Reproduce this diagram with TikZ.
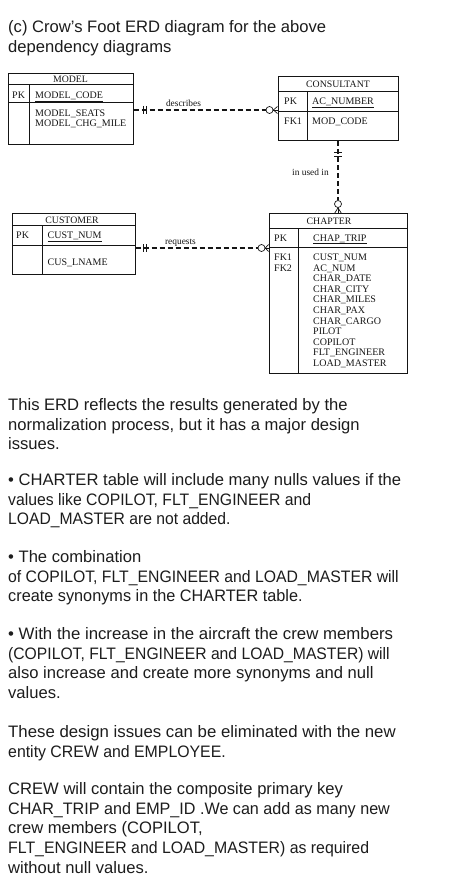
\documentclass[tikz,border=0pt]{standalone}
\usepackage{fontspec}
\usepackage{graphicx}
\setmainfont{Liberation Sans}
\newfontfamily\erdf{Liberation Serif}
\definecolor{textcol}{HTML}{1C1C1C}
\definecolor{erdcol}{HTML}{151515}
\newcommand{\sx}[2]{\scalebox{#1}[1]{#2}}
\begin{document}
\begin{tikzpicture}[x=1pt,y=-1pt,
  txt/.style={anchor=base west,inner sep=0,text=textcol,font=\fontsize{16.6}{19.7}\selectfont},
  fld/.style={anchor=base west,inner sep=0,text=erdcol,font=\erdf\fontsize{10}{10.6}\selectfont},
  ttl/.style={anchor=base,inner sep=0,text=erdcol,font=\erdf\fontsize{9.8}{10}\selectfont},
  rel/.style={inner sep=0,text=erdcol,font=\erdf\fontsize{9.4}{9.4}\selectfont},
  tbl/.style={draw=erdcol,line width=1pt,inner sep=0,rectangle},
  rule/.style={draw=erdcol,line width=1pt},
  conn/.style={draw=erdcol,line width=1.1pt,dash pattern=on 5pt off 3pt},
  tick/.style={draw=erdcol,line width=0.9pt},
  opt/.style={circle,draw=erdcol,line width=0.7pt,minimum size=7pt,inner sep=0,fill=white},
  foot/.style={draw=erdcol,line width=0.7pt}]
\useasboundingbox (0,0) rectangle (474,885);
% ---------- title ----------
\node[txt] (t1) at (8,33) {(c) Crow’s Foot ERD diagram for the above};
\node[txt] (t2) at (8,52.5) {dependency diagrams};
% ---------- MODEL ----------
\node[tbl,minimum width=125pt,minimum height=71pt] (model) at (70.5,109.5) {};
\draw[rule] (8,85) -- (133,85);
\draw[rule] (8,103) -- (133,103);
\draw[rule] (29,85) -- (29,145);
\node[ttl] (modelT) at (70.5,83) {MODEL};
\node[fld] (modelPK) at (12,98.5) {PK};
\node[fld] (modelA) at (35,98.5) {\underline{MODEL\_CODE}};
\node[fld] (modelB) at (35,116.6) {MODEL\_SEATS};
\node[fld] (modelC) at (35,126.8) {MODEL\_CHG\_MILE};
% ---------- CONSULTANT ----------
\node[tbl,minimum width=120pt,minimum height=64pt] (cons) at (338,109) {};
\draw[rule] (278,92) -- (398,92);
\draw[rule] (278,112) -- (398,112);
\draw[rule] (307,92) -- (307,141);
\node[ttl] (consT) at (338,88) {CONSULTANT};
\node[fld] (consPK) at (284,105) {PK};
\node[fld] (consA) at (312,105) {\underline{AC\_NUMBER}};
\node[fld] (consFK) at (284,124.3) {FK1};
\node[fld] (consB) at (312,124.3) {MOD\_CODE};
% ---------- CUSTOMER ----------
\node[tbl,minimum width=123pt,minimum height=60pt] (cust) at (73.5,244) {};
\draw[rule] (12,226) -- (135,226);
\draw[rule] (12,245) -- (135,245);
\draw[rule] (42,226) -- (42,274);
\node[ttl] (custT) at (72,223.5) {CUSTOMER};
\node[fld] (custPK) at (16,238.5) {PK};
\node[fld] (custA) at (47.5,238.5) {\underline{CUST\_NUM}};
\node[fld] (custB) at (47.5,265.6) {CUS\_LNAME};
% ---------- CHAPTER ----------
\node[tbl,minimum width=138pt,minimum height=159pt] (chap) at (338,293.5) {};
\draw[rule] (269,229) -- (407,229);
\draw[rule] (269,247) -- (407,247);
\draw[rule] (298,229) -- (298,373);
\node[ttl] (chapT) at (329,225) {CHAPTER};
\node[fld] (chapPK) at (274,241) {PK};
\node[fld] (chapA) at (313,241) {\underline{CHAP\_TRIP}};
\node[fld] (chapFK1) at (274,260.5) {FK1};
\node[fld] (chapFK2) at (274,271.1) {FK2};
\node[fld] (chap1) at (313,260.5) {CUST\_NUM};
\node[fld] (chap2) at (313,271.1) {AC\_NUM};
\node[fld] (chap3) at (313,281.7) {CHAR\_DATE};
\node[fld] (chap4) at (313,292.3) {CHAR\_CITY};
\node[fld] (chap5) at (313,302.9) {CHAR\_MILES};
\node[fld] (chap6) at (313,313.5) {CHAR\_PAX};
\node[fld] (chap7) at (313,324.1) {CHAR\_CARGO};
\node[fld] (chap8) at (313,334.7) {PILOT};
\node[fld] (chap9) at (313,345.3) {COPILOT};
\node[fld] (chap10) at (313,355.9) {FLT\_ENGINEER};
\node[fld] (chap11) at (313,366.5) {LOAD\_MASTER};
% ---------- describes ----------
\node[opt] (c1) at (269.5,110) {};
\draw[conn] (model.east |- c1) -- (c1.west);
\draw[tick] (143,106) -- (143,114);
\draw[tick] (146.5,106) -- (146.5,114);
\draw[foot] (c1.east) -- (cons.west |- c1);
\draw[foot] (c1.east) -- ([yshift=-3.5pt]cons.west |- c1);
\draw[foot] (c1.east) -- ([yshift=3.5pt]cons.west |- c1);
\node[rel,anchor=base] (lblDesc) at (183.5,106.5) {describes};
% ---------- in used in ----------
\node[opt] (c2) at (338,204) {};
\draw[conn] (cons.south) -- (c2.north);
\draw[tick] (334,152.7) -- (342,152.7);
\draw[tick] (334,156) -- (342,156);
\draw[foot] (c2.south) -- (chap.north);
\draw[foot] (c2.south) -- ([xshift=-3.5pt]chap.north);
\draw[foot] (c2.south) -- ([xshift=3.5pt]chap.north);
\node[rel,anchor=base] (lblUsed) at (310.5,176) {in used in};
% ---------- requests ----------
\coordinate (rq) at (0,248);
\node[opt] (c3) at (261.5,248) {};
\draw[conn] (cust.east |- rq) -- (c3.west);
\draw[tick] (143,244) -- (143,252);
\draw[tick] (146.5,244) -- (146.5,252);
\draw[foot] (c3.east) -- (chap.west |- rq);
\draw[foot] (c3.east) -- ([yshift=-3.5pt]chap.west |- rq);
\draw[foot] (c3.east) -- ([yshift=3.5pt]chap.west |- rq);
\node[rel,anchor=base] (lblReq) at (180.5,244) {requests};
% ---------- paragraphs ----------
\node[txt] (p1a) at (8,410.5) {This ERD reflects the results generated by the};
\node[txt] (p1b) at (8,430.2) {normalization process, but it has a major design};
\node[txt] (p1c) at (8,449.9) {issues.};
\node[txt] (b1a) at (8,485.5) {• CHARTER table will include many nulls values if the};
\node[txt] (b1b) at (8,505.2) {\sx{0.95}{values like COPILOT, FLT\_ENGINEER and}};
\node[txt] (b1c) at (8,524.9) {\sx{0.945}{LOAD\_MASTER are not added.}};
\node[txt] (b2a) at (8,562.5) {• The combination};
\node[txt] (b2b) at (8,582.2) {\sx{0.95}{of COPILOT, FLT\_ENGINEER and LOAD\_MASTER will}};
\node[txt] (b2c) at (8,601.9) {\sx{0.98}{create synonyms in the CHARTER table.}};
\node[txt] (b3a) at (8,639.5) {\sx{1.012}{• With the increase in the aircraft the crew members}};
\node[txt] (b3b) at (8,659.2) {\sx{0.945}{(COPILOT, FLT\_ENGINEER and LOAD\_MASTER) will}};
\node[txt] (b3c) at (8,678.9) {also increase and create more synonyms and null};
\node[txt] (b3d) at (8,698.6) {values.};
\node[txt] (p2a) at (8,737.5) {\sx{1.012}{These design issues can be eliminated with the new}};
\node[txt] (p2b) at (8,757.2) {\sx{0.955}{entity CREW and EMPLOYEE.}};
\node[txt] (p3a) at (8,794.5) {CREW will contain the composite primary key};
\node[txt] (p3b) at (8,814.2) {\sx{0.972}{CHAR\_TRIP and EMP\_ID .We can add as many new}};
\node[txt] (p3c) at (8,833.9) {crew members (COPILOT,};
\node[txt] (p3d) at (8,853.6) {\sx{0.955}{FLT\_ENGINEER and LOAD\_MASTER) as required}};
\node[txt] (p3e) at (8,873.3) {without null values.};
\end{tikzpicture}
\end{document}
